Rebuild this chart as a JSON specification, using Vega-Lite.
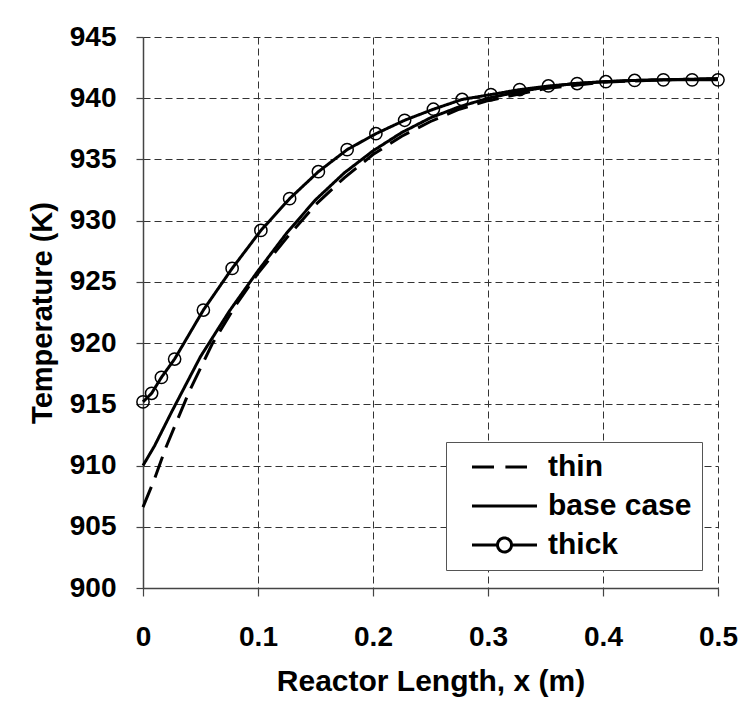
{
  "$schema": "https://vega.github.io/schema/vega-lite/v6.json",
  "autosize": {"type": "none"},
  "width": 575,
  "height": 551,
  "padding": {"left": 143, "top": 37, "right": 36, "bottom": 119},
  "background": "white",
  "config": {
    "view": {"stroke": null},
    "font": "Liberation Sans"
  },
  "datasets": {
    "curves": [
      {"series": "thin", "x": 0, "T": 906.6},
      {"series": "thin", "x": 0.01, "T": 908.9},
      {"series": "thin", "x": 0.02, "T": 911.5},
      {"series": "thin", "x": 0.04, "T": 916.0},
      {"series": "thin", "x": 0.06, "T": 919.9},
      {"series": "thin", "x": 0.08, "T": 923.0},
      {"series": "thin", "x": 0.1, "T": 925.7},
      {"series": "thin", "x": 0.125, "T": 928.6},
      {"series": "thin", "x": 0.15, "T": 931.3},
      {"series": "thin", "x": 0.175, "T": 933.5},
      {"series": "thin", "x": 0.2, "T": 935.4},
      {"series": "thin", "x": 0.225, "T": 936.9},
      {"series": "thin", "x": 0.25, "T": 938.1},
      {"series": "thin", "x": 0.275, "T": 939.1},
      {"series": "thin", "x": 0.3, "T": 939.8},
      {"series": "thin", "x": 0.35, "T": 940.8},
      {"series": "thin", "x": 0.4, "T": 941.3},
      {"series": "thin", "x": 0.45, "T": 941.5},
      {"series": "thin", "x": 0.5, "T": 941.6},
      {"series": "base case", "x": 0, "T": 910.0},
      {"series": "base case", "x": 0.01, "T": 911.6},
      {"series": "base case", "x": 0.025, "T": 914.4},
      {"series": "base case", "x": 0.05, "T": 918.9},
      {"series": "base case", "x": 0.075, "T": 922.6},
      {"series": "base case", "x": 0.1, "T": 925.9},
      {"series": "base case", "x": 0.125, "T": 929.0},
      {"series": "base case", "x": 0.15, "T": 931.7},
      {"series": "base case", "x": 0.175, "T": 933.9},
      {"series": "base case", "x": 0.2, "T": 935.7},
      {"series": "base case", "x": 0.225, "T": 937.2},
      {"series": "base case", "x": 0.25, "T": 938.4},
      {"series": "base case", "x": 0.275, "T": 939.3},
      {"series": "base case", "x": 0.3, "T": 940.0},
      {"series": "base case", "x": 0.325, "T": 940.5},
      {"series": "base case", "x": 0.35, "T": 940.9},
      {"series": "base case", "x": 0.375, "T": 941.2},
      {"series": "base case", "x": 0.4, "T": 941.35},
      {"series": "base case", "x": 0.425, "T": 941.45},
      {"series": "base case", "x": 0.45, "T": 941.5},
      {"series": "base case", "x": 0.475, "T": 941.55},
      {"series": "base case", "x": 0.5, "T": 941.6},
      {"series": "thick", "x": 0, "T": 915.2},
      {"series": "thick", "x": 0.0075, "T": 915.9},
      {"series": "thick", "x": 0.016, "T": 917.2},
      {"series": "thick", "x": 0.0275, "T": 918.7},
      {"series": "thick", "x": 0.0525, "T": 922.7},
      {"series": "thick", "x": 0.0775, "T": 926.1},
      {"series": "thick", "x": 0.1025, "T": 929.2},
      {"series": "thick", "x": 0.1275, "T": 931.8},
      {"series": "thick", "x": 0.1525, "T": 934.0},
      {"series": "thick", "x": 0.1775, "T": 935.8},
      {"series": "thick", "x": 0.2025, "T": 937.1},
      {"series": "thick", "x": 0.2275, "T": 938.2},
      {"series": "thick", "x": 0.2525, "T": 939.1},
      {"series": "thick", "x": 0.2775, "T": 939.9},
      {"series": "thick", "x": 0.3025, "T": 940.3},
      {"series": "thick", "x": 0.3275, "T": 940.7},
      {"series": "thick", "x": 0.3525, "T": 941.0},
      {"series": "thick", "x": 0.3775, "T": 941.2},
      {"series": "thick", "x": 0.4025, "T": 941.35},
      {"series": "thick", "x": 0.4275, "T": 941.45},
      {"series": "thick", "x": 0.4525, "T": 941.5},
      {"series": "thick", "x": 0.4775, "T": 941.5},
      {"series": "thick", "x": 0.5, "T": 941.5}
    ]
  },
  "data": {"name": "curves"},
  "encoding": {
    "x": {
      "field": "x", "type": "quantitative",
      "scale": {"domain": [0, 0.5], "nice": false, "zero": false},
      "axis": {
        "title": "Reactor Length, x (m)",
        "values": [0, 0.1, 0.2, 0.3, 0.4, 0.5],
        "format": "~g",
        "labelFont": "Liberation Sans", "labelFontSize": 28, "labelFontWeight": "bold", "labelColor": "black",
        "labelPadding": 27, "labelFlush": false,
        "titleFont": "Liberation Sans", "titleFontSize": 30, "titleFontWeight": "bold", "titleColor": "black",
        "titlePadding": 15,
        "domainColor": "#444", "domainWidth": 1.5,
        "tickColor": "#444", "tickSize": 8, "tickWidth": 1.2,
        "grid": true, "gridColor": "#333", "gridDash": [7, 4], "gridWidth": 1
      }
    },
    "y": {
      "field": "T", "type": "quantitative",
      "scale": {"domain": [900, 945], "nice": false, "zero": false},
      "axis": {
        "title": "Temperature (K)",
        "values": [900, 905, 910, 915, 920, 925, 930, 935, 940, 945],
        "labelFont": "Liberation Sans", "labelFontSize": 28, "labelFontWeight": "bold", "labelColor": "black",
        "labelPadding": 20, "labelFlush": false,
        "titleFont": "Liberation Sans", "titleFontSize": 29, "titleFontWeight": "bold", "titleColor": "black",
        "titlePadding": 12,
        "domainColor": "#444", "domainWidth": 1.5,
        "tickColor": "#444", "tickSize": 7, "tickWidth": 1.2,
        "grid": true, "gridColor": "#333", "gridDash": [7, 4], "gridWidth": 1
      }
    }
  },
  "layer": [
    {
      "mark": {"type": "line", "color": "black", "strokeWidth": 3, "interpolate": "linear"},
      "encoding": {
        "strokeDash": {
          "field": "series", "type": "nominal",
          "scale": {"domain": ["thin", "base case", "thick"], "range": [[22, 10], [1, 0], [1, 0]]},
          "legend": {
            "title": null,
            "orient": "none",
            "legendX": 303,
            "legendY": 405,
            "direction": "vertical",
            "fillColor": "white",
            "strokeColor": "#555",
            "padding": 10,
            "rowPadding": 9,
            "symbolSize": 400,
            "symbolStrokeWidth": 3,
            "symbolStrokeColor": "black",
            "symbolFillColor": "transparent",
            "symbolDash": [],
            "symbolOffset": 11,
            "labelFont": "Liberation Sans",
            "labelFontSize": 30,
            "labelFontWeight": "bold",
            "labelColor": "black",
            "labelOffset": 51,
            "labelLimit": 300,
            "encode": {
              "symbols": {
                "update": {
                  "shape": {"signal": "datum.value === 'thin' ? 'M-1,0H1.27M2.34,0H4.5' : (datum.value === 'thick' ? 'M-1,0H1.55M2.95,0H5.5M1.55,0A0.7,0.7,0,1,1,2.95,0A0.7,0.7,0,1,1,1.55,0' : 'M-1,0H5.5')"},
                  "strokeDash": {"value": []},
                  "stroke": {"value": "black"},
                  "strokeWidth": {"value": 3},
                  "fill": {"value": "transparent"}
                }
              }
            }
          }
        }
      }
    },
    {
      "transform": [{"filter": "datum.series === 'thick'"}],
      "mark": {"type": "point", "shape": "circle", "filled": false, "size": 150, "stroke": "black", "strokeWidth": 1.5, "opacity": 1}
    }
  ]
}
